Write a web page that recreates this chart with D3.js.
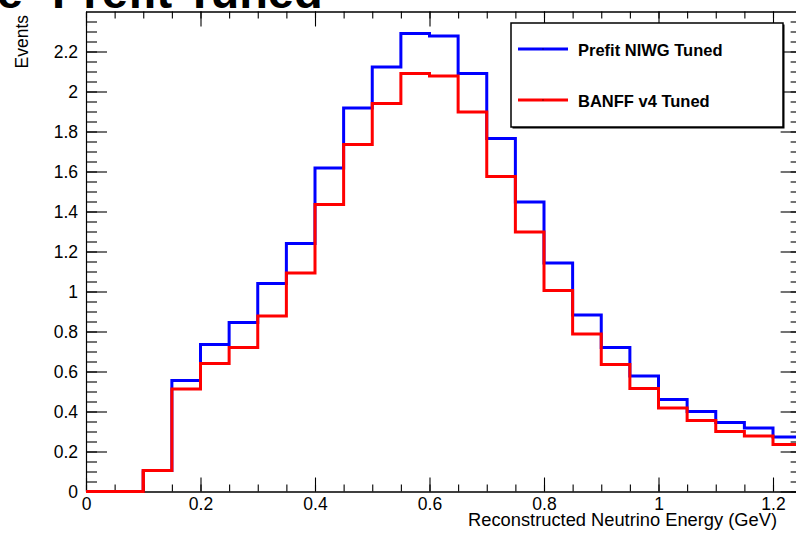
<!DOCTYPE html>
<html>
<head>
<meta charset="utf-8">
<script src="https://cdn.jsdelivr.net/npm/d3@7"></script>
<style>
  body { margin: 0; background: #fff; }
  text { font-family: "Liberation Sans", Arial, Helvetica, sans-serif; }
</style>
</head>
<body>
<script>
//constants
const w = 796;
const h = 534;

// frame (x range 0 - 1.25 GeV, right edge falls just off the picture)
const frameL = 86, frameT = 11.5, frameB = 491.5;
const frameR = 86 + 1.25 * 572.5;

// data : bin low edges (GeV), bin width 0.05
const binLow = [0, 0.05, 0.1, 0.15, 0.2, 0.25, 0.3, 0.35, 0.4, 0.45, 0.5, 0.55, 0.6,
                0.65, 0.7, 0.75, 0.8, 0.85, 0.9, 0.95, 1.0, 1.05, 1.1, 1.15, 1.2];
const binWidth = 0.05;

const prefitNIWG = [0, 0, 0.105, 0.555, 0.735, 0.845, 1.04, 1.24, 1.617, 1.917, 2.122, 2.29, 2.277,
                    2.09, 1.765, 1.447, 1.142, 0.882, 0.72, 0.577, 0.46, 0.40, 0.345, 0.317, 0.272];
const banffV4 = [0, 0, 0.105, 0.513, 0.64, 0.72, 0.877, 1.093, 1.435, 1.735, 1.94, 2.09, 2.077,
                 1.897, 1.575, 1.297, 1.005, 0.787, 0.635, 0.515, 0.417, 0.355, 0.30, 0.277, 0.235];

const xTicks = [0, 0.2, 0.4, 0.6, 0.8, 1, 1.2];
const yTicks = [0, 0.2, 0.4, 0.6, 0.8, 1, 1.2, 1.4, 1.6, 1.8, 2, 2.2];
const legendNames = ["Prefit NIWG Tuned", "BANFF v4 Tuned"];
const colors = ["#0000ff", "#ff0000"];

//scales
const xScale = d3.scaleLinear().domain([0, 1.25]).range([frameL, frameR]);
const yScale = d3.scaleLinear().domain([0, 2.4]).range([frameB, frameT]);

const svg = d3.select("body").append("svg")
    .attr("width", w)
    .attr("height", h);

svg.append("rect").attr("width", w).attr("height", h).attr("fill", "#fff");

//title (only the bottom of it is inside the picture)
svg.append("text")
    .attr("x", 23).attr("y", 8)
    .attr("text-anchor", "end")
    .attr("font-size", 47).attr("font-weight", "bold")
    .text("1Re");
svg.append("text")
    .attr("x", 52).attr("y", 8)
    .attr("font-size", 47).attr("font-weight", "bold")
    .text("Prefit Tuned");

//histograms
const step = d3.line()
    .x(d => xScale(d[0]))
    .y(d => yScale(d[1]))
    .curve(d3.curveStepAfter);

function histPoints(vals) {
  const pts = binLow.map((x, i) => [x, vals[i]]);
  pts.push([binLow[binLow.length - 1] + binWidth, vals[vals.length - 1]]);
  return pts;
}

[prefitNIWG, banffV4].forEach((vals, i) => {
  svg.append("path")
      .attr("d", step(histPoints(vals)))
      .attr("fill", "none")
      .attr("stroke", colors[i])
      .attr("stroke-width", 3)
      .attr("stroke-linejoin", "miter");
});

//axes
const minorX = d3.range(0, 1.2501, 0.05);
const minorY = d3.range(0, 2.4, 0.05);
const fmt = d => d3.format("~g")(+d.toFixed(2));

function styleAxis(g) {
  g.selectAll("path, line").attr("stroke", "#000").attr("stroke-width", 1.1);
  g.selectAll("text").attr("font-size", 17.5).attr("fill", "#000")
      .style("font-family", '"Liberation Sans", Arial, Helvetica, sans-serif');
}

// bottom
svg.append("g").attr("transform", "translate(0," + frameB + ")")
    .call(d3.axisBottom(xScale).tickValues(minorX).tickSize(-7).tickSizeOuter(0).tickFormat(""))
    .call(styleAxis);
svg.append("g").attr("transform", "translate(0," + frameB + ")")
    .call(d3.axisBottom(xScale).tickValues(xTicks).tickSize(-14).tickSizeOuter(0)
          .tickPadding(6).tickFormat(fmt))
    .call(styleAxis);

// top
svg.append("g").attr("transform", "translate(0," + frameT + ")")
    .call(d3.axisTop(xScale).tickValues(minorX).tickSize(-7).tickSizeOuter(0).tickFormat(""))
    .call(styleAxis);
svg.append("g").attr("transform", "translate(0," + frameT + ")")
    .call(d3.axisTop(xScale).tickValues(xTicks).tickSize(-15).tickSizeOuter(0).tickFormat(""))
    .call(styleAxis);

// left
svg.append("g").attr("transform", "translate(" + frameL + ",0)")
    .call(d3.axisLeft(yScale).tickValues(minorY).tickSize(-11).tickSizeOuter(0).tickFormat(""))
    .call(styleAxis);
svg.append("g").attr("transform", "translate(" + frameL + ",0)")
    .call(d3.axisLeft(yScale).tickValues(yTicks).tickSize(-21).tickSizeOuter(0)
          .tickPadding(8).tickFormat(fmt))
    .call(styleAxis);

// right
svg.append("g").attr("transform", "translate(" + frameR + ",0)")
    .call(d3.axisRight(yScale).tickValues(minorY).tickSize(-11).tickSizeOuter(0).tickFormat(""))
    .call(styleAxis);
svg.append("g").attr("transform", "translate(" + frameR + ",0)")
    .call(d3.axisRight(yScale).tickValues(yTicks).tickSize(-21).tickSizeOuter(0).tickFormat(""))
    .call(styleAxis);

// red histogram sits over the axis line at zero
svg.append("path")
    .attr("d", step(histPoints(banffV4).slice(0, 3)))
    .attr("fill", "none").attr("stroke", colors[1]).attr("stroke-width", 3);

//axis titles
svg.append("text")
    .attr("x", 777).attr("y", 526)
    .attr("text-anchor", "end")
    .attr("font-size", 18.3)
    .text("Reconstructed Neutrino Energy (GeV)");

svg.append("text")
    .attr("transform", "translate(28,15) rotate(-90)")
    .attr("text-anchor", "end")
    .attr("font-size", 17.5)
    .text("Events");

//legend
const lg = svg.append("g");
lg.append("rect")
    .attr("x", 512.5).attr("y", 24.5).attr("width", 272).attr("height", 104)
    .attr("fill", "#000");
lg.append("rect")
    .attr("x", 511).attr("y", 23).attr("width", 272).attr("height", 104)
    .attr("fill", "#fff").attr("stroke", "#000").attr("stroke-width", 1.5);

legendNames.forEach((name, i) => {
  const yy = 49 + i * 51;
  lg.append("line")
      .attr("x1", 518).attr("x2", 568).attr("y1", yy).attr("y2", yy)
      .attr("stroke", colors[i]).attr("stroke-width", 3);
  lg.append("rect")
      .attr("x", 542.5).attr("y", yy - 0.5).attr("width", 1).attr("height", 1)
      .attr("fill", "#000");
  lg.append("text")
      .attr("x", 578).attr("y", yy + 6.5)
      .attr("font-size", 16.5).attr("font-weight", "bold")
      .text(name);
});
</script>
</body>
</html>
